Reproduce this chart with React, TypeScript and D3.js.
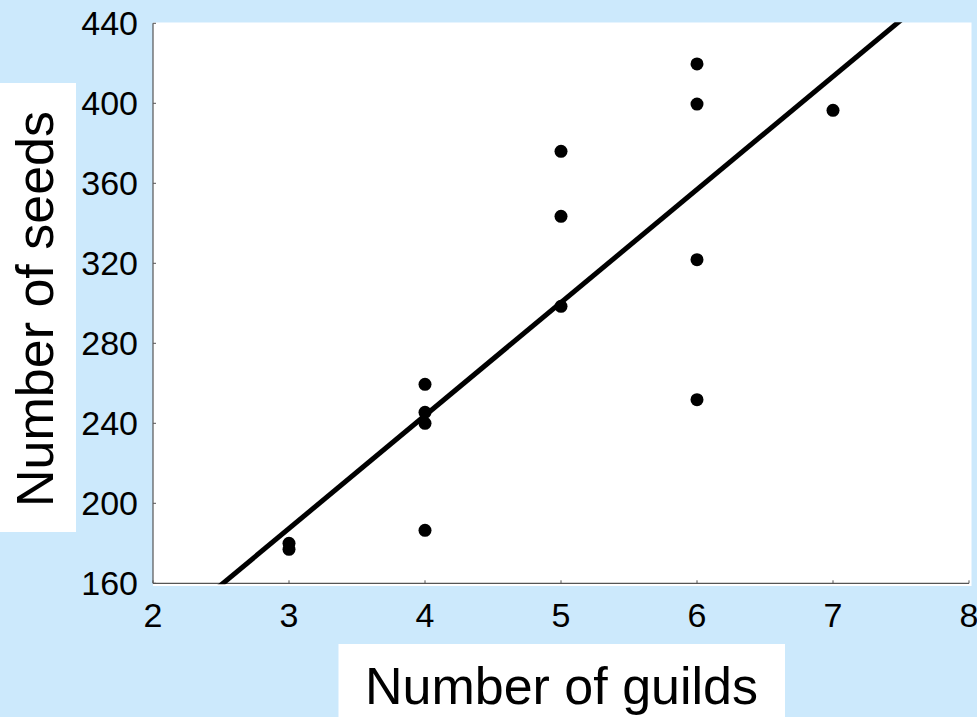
import React from "react";
import * as d3 from "d3";

// Data
const guilds: number[] = [3, 3, 4, 4, 4, 4, 5, 5, 5, 6, 6, 6, 6, 7];
const seeds: number[] = [180, 177, 259.5, 245.5, 240, 186.5, 376, 343.5, 298.5, 419.7, 399.6, 321.8, 251.8, 396.5];
const xTicks: number[] = [2, 3, 4, 5, 6, 7, 8];
const yTicks: number[] = [160, 200, 240, 280, 320, 360, 400, 440];
const fitSlope = 56.5;
const fitIntercept = 17.9;
const xTitle = "Number of guilds";
const yTitle = "Number of seeds";

const W = 977;
const H = 717;
const BG = "#cce9fc";
const FONT = "'Liberation Sans', Arial, Helvetica, sans-serif";

export default function App() {
  const left = 153, right = 969, top = 23.3, bottom = 583.3;
  const x = d3.scaleLinear().domain([2, 8]).range([left, right]);
  const y = d3.scaleLinear().domain([160, 440]).range([bottom, top]);

  const line = d3
    .line<number>()
    .x((g) => x(g))
    .y((g) => y(fitIntercept + fitSlope * g));
  const fitPath = line([2, 8]) || "";

  const axisColor = "#555";

  return (
    <div style={{ position: "fixed", left: 0, top: 0, width: W, height: H }}>
      <svg width={W} height={H} style={{ display: "block" }}>
        <defs>
          <clipPath id="plotClip">
            <rect x={left} y={top - 1} width={971 - left} height={bottom - top + 2} />
          </clipPath>
        </defs>
        <rect x={0} y={0} width={W} height={H} fill={BG} />
        {/* plot area */}
        <rect x={left} y={22.5} width={971.5 - left} height={586 - 22.5} fill="#fff" />
        {/* title boxes */}
        <rect x={0} y={83} width={76} height={449} fill="#fff" />
        <rect x={338.5} y={644} width={446.5} height={H - 644} fill="#fff" />

        {/* axes */}
        <line x1={left} x2={left} y1={top} y2={bottom} stroke={axisColor} strokeWidth={1.2} />
        <line x1={left} x2={right} y1={bottom} y2={bottom} stroke={axisColor} strokeWidth={1.2} />
        {yTicks.map((t) => (
          <g key={"y" + t}>
            <line x1={left} x2={left + 3} y1={y(t)} y2={y(t)} stroke={axisColor} strokeWidth={1} />
            <text
              x={138}
              y={y(t)}
              textAnchor="end"
              dominantBaseline="central"
              fontFamily={FONT}
              fontSize={34}
              fill="#000"
            >
              {t}
            </text>
          </g>
        ))}
        {xTicks.map((t) => (
          <g key={"x" + t}>
            <line x1={x(t)} x2={x(t)} y1={bottom} y2={bottom - 3} stroke={axisColor} strokeWidth={1} />
            <text
              x={x(t)}
              y={626.5}
              textAnchor="middle"
              fontFamily={FONT}
              fontSize={34}
              fill="#000"
            >
              {t}
            </text>
          </g>
        ))}

        {/* fit line */}
        <path d={fitPath} stroke="#000" strokeWidth={5} fill="none" clipPath="url(#plotClip)" />

        {/* points */}
        {guilds.map((g, i) => (
          <circle key={i} cx={x(g)} cy={y(seeds[i])} r={6.5} fill="#000" />
        ))}

        {/* titles */}
        <text x={561.5} y={704} textAnchor="middle" fontFamily={FONT} fontSize={52} fill="#000">
          {xTitle}
        </text>
        <text
          transform={`translate(53, 309) rotate(-90)`}
          textAnchor="middle"
          fontFamily={FONT}
          fontSize={52}
          fill="#000"
        >
          {yTitle}
        </text>
      </svg>
    </div>
  );
}
